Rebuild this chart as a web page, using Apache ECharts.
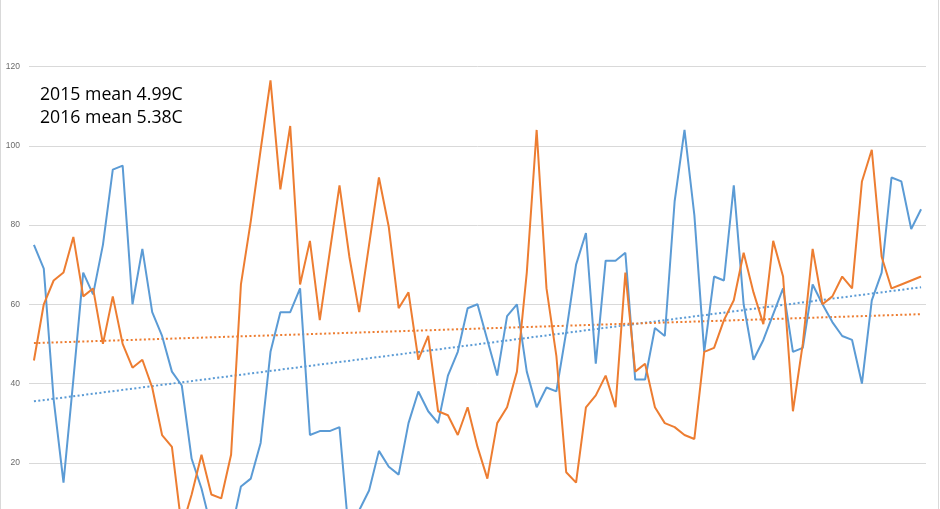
<!DOCTYPE html>
<html>
<head>
<meta charset="utf-8">
<script src="https://cdn.jsdelivr.net/npm/echarts@6/dist/echarts.min.js"></script>
<style>
  html, body { margin: 0; padding: 0; background: #ffffff; width: 940px; height: 509px; overflow: hidden; position: relative; }
  #chart { position: absolute; left: 0; top: -13px; width: 940px; height: 555px; }
</style>
</head>
<body>
<div id="chart"></div>
<script>
// Day index (categories)
const days = [1,2,3,4,5,6,7,8,9,10,11,12,13,14,15,16,17,18,19,20,
  21,22,23,24,25,26,27,28,29,30,31,32,33,34,35,36,37,38,39,40,
  41,42,43,44,45,46,47,48,49,50,51,52,53,54,55,56,57,58,59,60,
  61,62,63,64,65,66,67,68,69,70,71,72,73,74,75,76,77,78,79,80,
  81,82,83,84,85,86,87,88,89,90,91];

// 2015 series (blue)
const series2015 = [75,69,36,15,41,68,62.5,75,94,95,
  60,74,58,52,43,39.5,21,13.5,3.5,2,
  2.5,14,16,25,48,58,58,64,27,28,
  28,29,0.5,8,13,23,19,17,30,38,
  33,30,42,48,59,60,51,42,57,60,
  43,34,39,38,53,70,78,45,71,71,
  73,41,41,54,52,86,104,82.5,48,67,
  66,90,60,46,51,57.5,64,48,49,65,
  60,55.5,52,51,40,61,68,92,91,79,84];

// 2016 series (orange)
const series2016 = [45.8,60,66,68,77,62,64,50,62,50,
  44,46,39,27,24,3.5,12,22,12,11,
  22,65,81,99,116.5,89,105,65,76,56,
  73,90,72,58,75,92,79.5,59,63,46,
  52,33,32,27,34,24,16,30,34,43,
  68,104,64,47,17.6,15,34,37,42,34,
  68,43,45,34,30,29,27,26,48,49,
  56,61,73,63,55,76,67,33,50,74,
  60,62,67,64,91,99,72,64,65,66,67];

// Linear trend end values [first day, last day]
const trend2015 = [35.5, 64.3];
const trend2016 = [50.2, 57.5];

// Y-axis ticks
const yMin = 0, yMax = 140, yStep = 20;

const notes = ["2015 mean 4.99C", "2016 mean 5.38C"];

function trendData(ends) {
  const d = days.map(() => null);
  d[0] = ends[0];
  d[d.length - 1] = ends[1];
  return d;
}

const blue = '#5b9bd5';
const orange = '#ed7d31';

const chart = echarts.init(document.getElementById('chart'), null, { renderer: 'canvas' });
chart.setOption({
  animation: false,
  backgroundColor: '#ffffff',
  grid: { left: 29, right: 14, top: 0.3, bottom: 0, containLabel: false, outerBoundsMode: 'none' },
  xAxis: {
    type: 'category',
    data: days,
    boundaryGap: true,
    axisLine: { show: false },
    axisTick: { show: false },
    axisLabel: { show: false },
    splitLine: { show: false }
  },
  yAxis: {
    type: 'value',
    min: yMin, max: yMax, interval: yStep,
    axisLine: { show: false },
    axisTick: { show: false },
    axisLabel: { margin: 9, fontSize: 8.5, color: '#6b6b6b', fontFamily: 'Liberation Sans, Arial, sans-serif' },
    splitLine: { lineStyle: { color: '#d9d9d9', width: 1 } }
  },
  graphic: [
    { type: 'rect', silent: true, shape: { x: 0.5, y: 0, width: 938, height: 560 },
      style: { fill: null, stroke: '#d9d9d9', lineWidth: 1 } },
    { type: 'text', x: 40, y: 108, silent: true,
      style: { text: notes[0], font: '17.7px "Open Sans"', fill: '#000000', verticalAlign: 'middle' } },
    { type: 'text', x: 40, y: 131.4, silent: true,
      style: { text: notes[1], font: '17.7px "Open Sans"', fill: '#000000', verticalAlign: 'middle' } }
  ],
  series: [
    { name: '2015', type: 'line', data: series2015, showSymbol: false, symbol: 'none',
      lineStyle: { color: blue, width: 2 }, itemStyle: { color: blue }, z: 3 },
    { name: '2016', type: 'line', data: series2016, showSymbol: false, symbol: 'none',
      lineStyle: { color: orange, width: 2 }, itemStyle: { color: orange }, z: 3 },
    { name: 'trend2015', type: 'line', data: trendData(trend2015), connectNulls: true,
      showSymbol: false, symbol: 'none',
      lineStyle: { color: blue, width: 2, type: [2, 2.4] }, z: 2 },
    { name: 'trend2016', type: 'line', data: trendData(trend2016), connectNulls: true,
      showSymbol: false, symbol: 'none',
      lineStyle: { color: orange, width: 2, type: [2, 2.4] }, z: 2 }
  ]
});
</script>
</body>
</html>
